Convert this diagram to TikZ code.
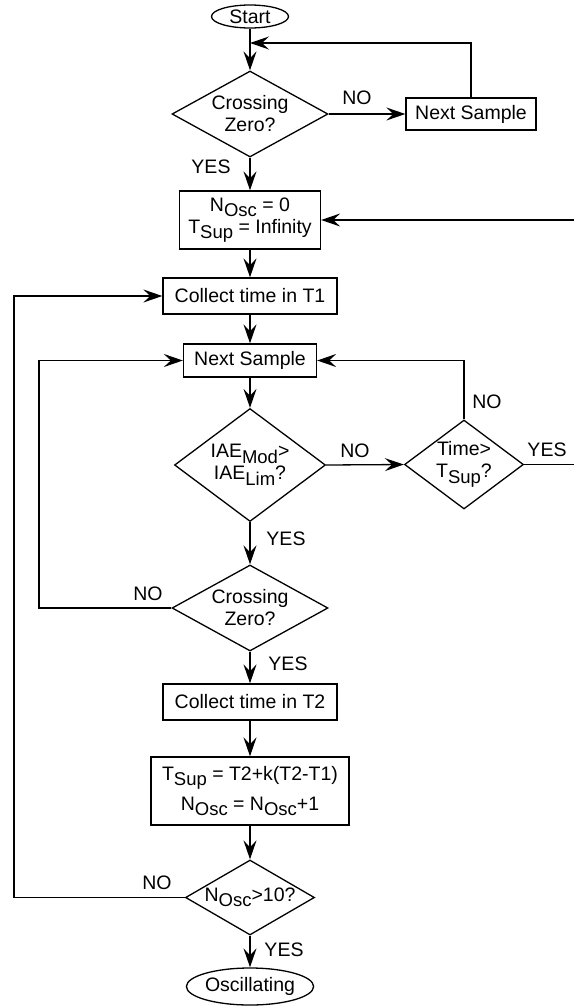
\documentclass[tikz,border=0pt]{standalone}
\usepackage{fontspec}
\setmainfont{Liberation Sans}
\usetikzlibrary{shapes.geometric,arrows.meta}
\newcommand\lsub[1]{\raisebox{-5.5pt}{\fontsize{18.5}{20}\selectfont #1}}
\begin{document}
\begin{tikzpicture}[x=1pt,y=-1pt,
  every node/.style={font=\fontsize{19.5}{22}\selectfont, inner sep=0pt},
  box/.style={draw, line width=1.3pt, rectangle, align=center},
  dia/.style={draw, line width=1.3pt, diamond},
  term/.style={draw, line width=1.3pt, ellipse},
  arr/.style={line width=1.3pt, -{Stealth[length=19pt,width=13pt,inset=7pt]}},
  ln/.style={line width=1.3pt}]
\useasboundingbox (0,0) rectangle (574,1007);

% nodes
\node[term, minimum width=77pt, minimum height=23pt] (start) at (250,16.5) {Start};
\node[dia, minimum width=156pt, minimum height=86pt,
      label={[align=center]center:{Crossing\\Zero?}}] (d1) at (250,114) {};
\node[box, minimum width=130pt, minimum height=32pt] (ns1) at (471,114) {Next Sample};
\node[box, minimum width=141pt, minimum height=58pt] (init) at (250,220)
  {N\lsub{Osc} = 0\\T\lsub{Sup} = Infinity};
\node[box, minimum width=174pt, minimum height=36pt] (t1) at (250,296) {Collect time in T1};
\node[box, minimum width=133pt, minimum height=33pt] (ns2) at (250,360.5) {Next Sample};
\node[dia, minimum width=151pt, minimum height=113pt,
      label={[align=center]center:{IAE\lsub{Mod}>\\IAE\lsub{Lim}?}}] (iae) at (250,465) {};
\node[dia, minimum width=119pt, minimum height=89pt,
      label={[align=center]center:{Time>\\T\lsub{Sup}?}}] (time) at (464,464.5) {};
\node[dia, minimum width=156pt, minimum height=86pt,
      label={[align=center]center:{Crossing\\Zero?}}] (d2) at (250,608) {};
\node[box, minimum width=174pt, minimum height=36pt] (t2) at (250,702) {Collect time in T2};
\node[box, minimum width=198pt, minimum height=68pt] (form) at (250,791)
  {T\lsub{Sup} = T2+k(T2-T1)\\[6pt]N\lsub{Osc} = N\lsub{Osc}+1};
\node[dia, minimum width=129pt, minimum height=75pt,
      label={center:{N\lsub{Osc}>10?}}] (nd) at (250,897.5) {};
\node[term, minimum width=115pt, minimum height=37pt] (osc) at (250,986.5) {Oscillating};

% coordinates
\coordinate (j1) at (250,43);
\coordinate (e1) at (574,220);
\coordinate (e2) at (574,464.5);
\coordinate (L1) at (14,0);
\coordinate (L2) at (39,0);

% labels
\node (lno1) at (357,98) {NO};
\node (lyes1) at (211,167) {YES};
\node (lno2) at (355,451) {NO};
\node (lno3) at (487,402) {NO};
\node (lyes2) at (547,450) {YES};
\node (lyes3) at (286,539) {YES};
\node (lno4) at (148,594) {NO};
\node (lyes4) at (288,664) {YES};
\node (lno5) at (157,883) {NO};
\node (lyes5) at (284,950) {YES};

% connectors
\draw[arr] (start.south) -- (d1.north);
\draw[arr] (d1.east) -- (ns1.west);
\draw[arr] (ns1.north) |- (j1);
\draw[arr] (d1.south) -- (init.north);
\draw[arr] (e1) -- (init.east);
\draw[arr] (init.south) -- (t1.north);
\draw[arr] (nd.west) -- (nd.west -| L1) |- (t1.west);
\draw[arr] (t1.south) -- (ns2.north);
\draw[arr] (ns2.south) -- (iae.north);
\draw[arr] (iae.east) -- (time.west);
\draw[arr] (time.north) |- (ns2.east);
\draw[ln] (time.east) -- (e2);
\draw[arr] (iae.south) -- (d2.north);
\draw[arr] (d2.west) -- (d2.west -| L2) |- (ns2.west);
\draw[arr] (d2.south) -- (t2.north);
\draw[arr] (t2.south) -- (form.north);
\draw[arr] (form.south) -- (nd.north);
\draw[arr] (nd.south) -- (osc.north);
\end{tikzpicture}
\end{document}
